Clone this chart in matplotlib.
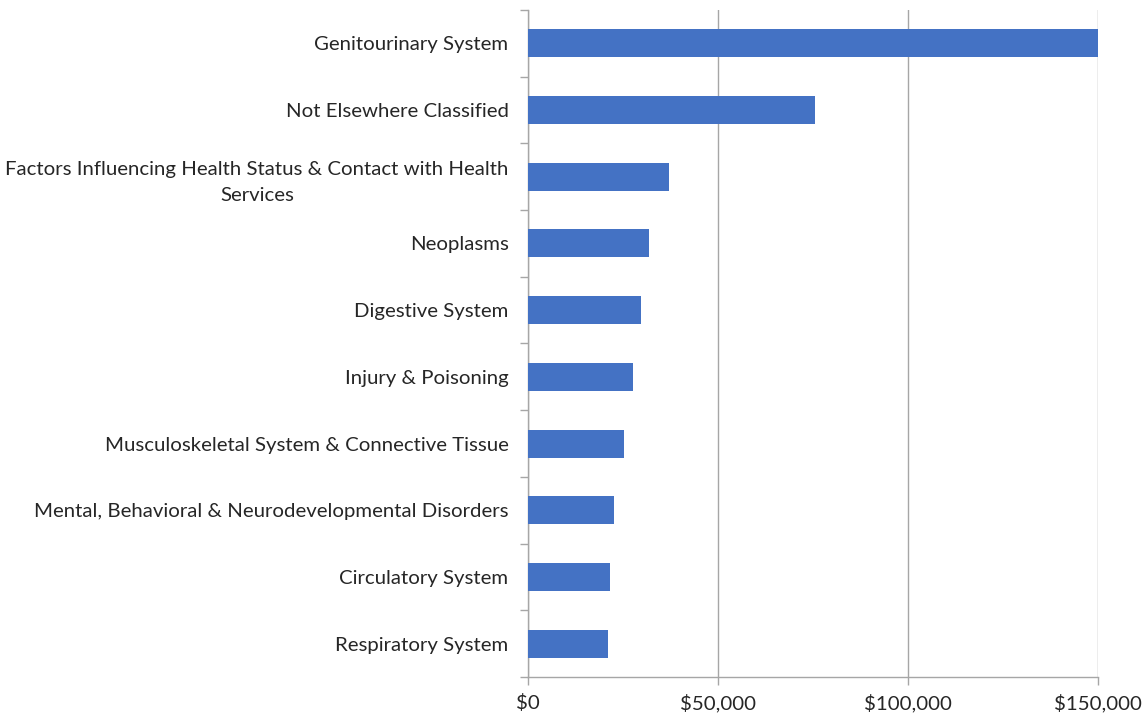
import numpy as np
import matplotlib.pyplot as plt
from matplotlib.ticker import FuncFormatter, FixedLocator

# spending by diagnosis category (top to bottom as displayed)
categories = [
    "Genitourinary System",
    "Not Elsewhere Classified",
    "Factors Influencing Health Status & Contact with Health\nServices",
    "Neoplasms",
    "Digestive System",
    "Injury & Poisoning",
    "Musculoskeletal System & Connective Tissue",
    "Mental, Behavioral & Neurodevelopmental Disorders",
    "Circulatory System",
    "Respiratory System",
]
spend = [150000, 75500, 37100, 31800, 29700, 27600, 25300, 22600, 21600, 21100]
x_ticks = [0, 50000, 100000, 150000]

plt.rcParams['font.family'] = ['Lato', 'DejaVu Sans']

fig = plt.figure(figsize=(11.44, 7.21), dpi=100)
ax = fig.add_axes([528 / 1144, 1 - 677 / 721, 570 / 1144, 667 / 721])

n = len(categories)
ypos = np.arange(n)[::-1]
ax.barh(ypos, spend, height=0.42, color='#4472C4', zorder=3)

ax.set_xlim(0, 150000)
ax.set_ylim(-0.5, n - 0.5)

ax.set_yticks(ypos)
ax.set_yticklabels(categories, ha='right', multialignment='center', linespacing=1.6)
ax.yaxis.set_minor_locator(FixedLocator(np.arange(-0.5, n, 1.0)))
ax.tick_params(axis='y', which='major', length=0, pad=14, labelsize=14.7, labelcolor='#262626')
ax.tick_params(axis='y', which='minor', length=6, color='#A6A6A6', width=1)

ax.set_xticks(x_ticks)
ax.xaxis.set_major_formatter(FuncFormatter(lambda v, p: "${:,.0f}".format(v)))
ax.tick_params(axis='x', length=6, color='#A6A6A6', width=1, labelsize=14.7,
               labelcolor='#262626', pad=6)

ax.grid(axis='x', color='#A6A6A6', linewidth=1, zorder=0)
for side in ['top', 'right']:
    ax.spines[side].set_visible(False)
for side in ['left', 'bottom']:
    ax.spines[side].set_color('#A6A6A6')
    ax.spines[side].set_linewidth(1)

fig.savefig('out.png', dpi=100)
